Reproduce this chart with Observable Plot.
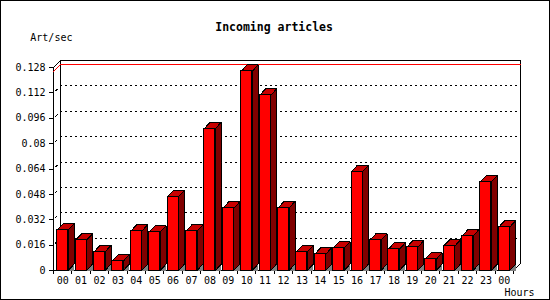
<!DOCTYPE html>
<html>
<head>
<meta charset="utf-8">
<script src="https://cdn.jsdelivr.net/npm/d3@7"></script>
<script src="https://cdn.jsdelivr.net/npm/@observablehq/plot@0.6"></script>
<style>
  html, body { margin: 0; padding: 0; background: #fff; }
  svg { shape-rendering: crispEdges; outline: 1px solid #000; outline-offset: -1px; }
</style>
</head>
<body>
<div id="chart"></div>
<script>
// ---- data ----
const hourLabels = ["00","01","02","03","04","05","06","07","08","09","10","11",
  "12","13","14","15","16","17","18","19","20","21","22","23","00"];
const articlesPerSec = [0.0255,0.0191,0.0117,0.0060,0.0248,0.0242,0.0466,0.0248,0.0895,0.0392,
  0.1256,0.1104,0.0394,0.0117,0.0103,0.0141,0.0624,0.0191,0.0134,0.0147,0.0071,0.0153,0.0217,0.0559,0.0274];
const yTicks = [0,0.016,0.032,0.048,0.064,0.08,0.096,0.112,0.128];
const yTickLabels = ["0","0.016","0.032","0.048","0.064","0.08","0.096","0.112","0.128"];
const title = "Incoming articles";
const yUnit = "Art/sec";
const xUnit = "Hours";

// ---- layout ----
const W = 550, H = 300;
const mL = 53, mR = 37, mT = 67, mB = 30;
const n = hourLabels.length;
const yMax = 0.128;
const pxX = (W - mL - mR) / n;          // px per x unit
const unitY = yMax / (H - mB - mT);     // y units per px
const barDX = 6 / pxX, barDY = 6.5 * unitY;   // bar depth
const frDX = 7 / pxX, frDY = 7 * unitY;       // frame depth
const b0 = 0.2, b1 = 0.8;               // bar front within slot

const bars = articlesPerSec.map((v, i) => ({i, v, x1: i + b0, x2: i + b1}));
const tops = bars.flatMap(d => [
  [d.x1, d.v], [d.x2, d.v], [d.x2 + barDX, d.v + barDY], [d.x1 + barDX, d.v + barDY], [d.x1, d.v]
].map(([x, y]) => ({x, y, z: d.i})));
const sides = bars.flatMap(d => [
  [d.x2, d.v], [d.x2 + barDX, d.v + barDY], [d.x2 + barDX, barDY], [d.x2, 0], [d.x2, d.v]
].map(([x, y]) => ({x, y, z: d.i})));
const shadows = bars.flatMap(d => [
  [d.x2, 0], [d.x2 + barDX, barDY], [d.x2 + barDX, 0], [d.x2, 0]
].map(([x, y]) => ({x, y, z: d.i})));

const frame = [[0, yMax], [frDX, yMax + frDY], [n + frDX, yMax + frDY], [n + frDX, frDY], [n, 0], [0, 0], [0, yMax]]
  .map(([x, y]) => ({x, y}));
const backLeft = [[frDX, yMax + frDY], [frDX, frDY]].map(([x, y]) => ({x, y}));
const maxV = d3.max(articlesPerSec);
const maxLine = [[0, maxV], [frDX, maxV + frDY], [n + frDX, maxV + frDY]].map(([x, y]) => ({x, y}));
const gridVals = yTicks.filter(v => v > 0 && v < yMax);

const fmtY = d => yTickLabels[yTicks.indexOf(d)] ?? "";

const chart = Plot.plot({
  width: W, height: H,
  marginLeft: mL, marginRight: mR, marginTop: mT, marginBottom: mB,
  style: {fontFamily: "DejaVu Sans Mono", fontSize: "10px", background: "#fff", color: "#000", overflow: "visible"},
  x: {type: "linear", domain: [0, n], axis: null},
  y: {domain: [0, yMax], axis: null},
  marks: [
    // back-wall dashed grid
    Plot.ruleY(gridVals, {y: d => d + frDY, x1: frDX, x2: n + frDX, stroke: "#000", strokeDasharray: "2,3"}),
    Plot.link(gridVals, {x1: 0, y1: d => d, x2: frDX, y2: d => d + frDY, stroke: "#000", strokeDasharray: "0,2.5,3,100"}),
    Plot.line(frame, {x: "x", y: "y", stroke: "#000", strokeWidth: 1}),
    Plot.line(backLeft, {x: "x", y: "y", stroke: "#000", strokeWidth: 1}),
    Plot.line(maxLine, {x: "x", y: "y", stroke: "#f00", strokeWidth: 1}),
    // axes
    Plot.axisY({ticks: yTicks, tickFormat: fmtY, tickSize: 4, tickPadding: 4, label: null}),
    Plot.axisX({ticks: d3.range(n + 1), tickFormat: () => "", tickSize: 4, label: null}),
    Plot.axisX({ticks: d3.range(n).map(i => i + 0.5), tickFormat: d => hourLabels[Math.floor(d)], tickSize: 0, tickPadding: 6, label: null}),
    // 3D bars
    Plot.line(shadows, {x: "x", y: "y", z: "z", fill: "#808080", stroke: "none"}),
    Plot.line(sides, {x: "x", y: "y", z: "z", fill: "#800000", stroke: "#000", strokeWidth: 1, strokeLinejoin: "miter"}),
    Plot.line(tops, {x: "x", y: "y", z: "z", fill: "#c80000", stroke: "#000", strokeWidth: 1, strokeLinejoin: "miter"}),
    Plot.rect(bars, {x1: "x1", x2: "x2", y1: 0, y2: "v", fill: "#ff0000", stroke: "#000", strokeWidth: 1}),
    // texts
    Plot.text([title], {text: d => d, frameAnchor: "top", dx: -9.4, dy: -40.3, lineAnchor: "middle", fontWeight: "bold", fontSize: 11.5}),
    Plot.text([yUnit], {text: d => d, frameAnchor: "top-left", textAnchor: "start", dx: -23.2, dy: -29.7, lineAnchor: "middle"}),
    Plot.text([xUnit], {text: d => d, frameAnchor: "bottom-right", textAnchor: "end", dx: 21, dy: 22.5, lineAnchor: "middle"})
  ]
});
document.getElementById("chart").append(chart);
</script>
</body>
</html>
